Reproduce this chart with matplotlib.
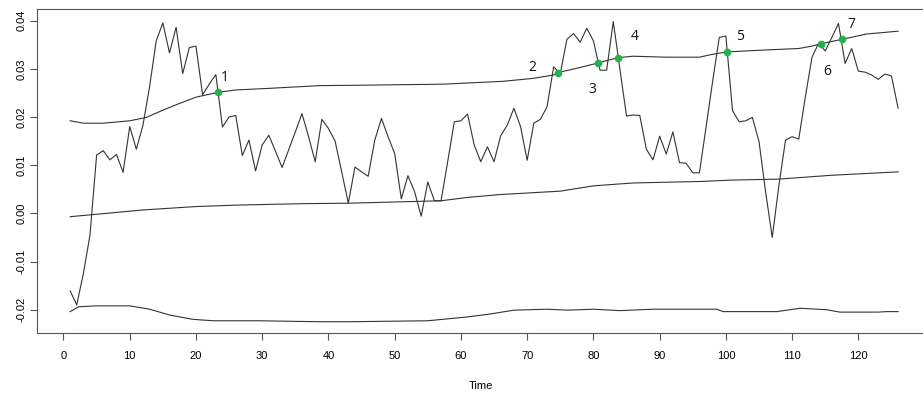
import matplotlib
matplotlib.use("Agg")
import matplotlib.pyplot as plt

# main series, t = 1..126
time = list(range(1, 127))
series = [
    -0.0161, -0.0190, -0.0125, -0.0045, 0.0121, 0.0130, 0.0111, 0.0122, 0.0085, 0.0180,
    0.0133, 0.0183, 0.0263, 0.0358, 0.0395, 0.0333, 0.0386, 0.0290, 0.0344, 0.0347,
    0.0246, 0.0268, 0.0288, 0.0179, 0.0200, 0.0203, 0.0120, 0.0152, 0.0088, 0.0142,
    0.0162, 0.0129, 0.0095, 0.0132, 0.0169, 0.0207, 0.0159, 0.0107, 0.0195, 0.0176,
    0.0150, 0.0086, 0.0021, 0.0096, 0.0086, 0.0077, 0.0152, 0.0197, 0.0159, 0.0124,
    0.0030, 0.0078, 0.0045, -0.0006, 0.0065, 0.0026, 0.0026, 0.0107, 0.0190, 0.0192,
    0.0206, 0.0142, 0.0107, 0.0138, 0.0107, 0.0161, 0.0183, 0.0218, 0.0180, 0.0110,
    0.0187, 0.0195, 0.0221, 0.0304, 0.0290, 0.0361, 0.0373, 0.0355, 0.0384, 0.0358,
    0.0297, 0.0297, 0.0398, 0.0299, 0.0202, 0.0204, 0.0203, 0.0133, 0.0111, 0.0160,
    0.0123, 0.0169, 0.0105, 0.0104, 0.0084, 0.0084, 0.0178, 0.0274, 0.0365, 0.0368,
    0.0213, 0.0190, 0.0192, 0.0199, 0.0149, 0.0044, -0.0050, 0.0057, 0.0152, 0.0159,
    0.0154, 0.0242, 0.0324, 0.0353, 0.0337, 0.0365, 0.0394, 0.0311, 0.0342, 0.0295,
    0.0293, 0.0287, 0.0278, 0.0289, 0.0285, 0.0218,
]

# upper band
upper_t = [1, 3, 6, 10, 12.5, 15, 17.5, 20, 23.3, 26, 30.6, 38.7, 46, 57.3, 66.4, 70.9,
           74, 74.6, 77.5, 80.7, 83.7, 86, 91, 96, 98, 100.2, 106, 111, 113, 114.4,
           117.5, 121.2, 126]
upper = [0.0192, 0.0187, 0.0187, 0.0192, 0.0199, 0.0214, 0.0228, 0.0241, 0.0251, 0.0256,
         0.0259, 0.0265, 0.0266, 0.0268, 0.0274, 0.0280, 0.0287, 0.0292, 0.0301, 0.0312,
         0.0323, 0.0326, 0.0324, 0.0324, 0.0330, 0.0335, 0.0339, 0.0342, 0.0347, 0.0352,
         0.0361, 0.0372, 0.0378]

# middle line
mid_t = [1, 5, 12, 20, 26, 36, 43, 57, 61, 66, 75, 80, 86, 96, 101, 108, 116, 126]
mid = [-0.0007, -0.0002, 0.0007, 0.0014, 0.0017, 0.0020, 0.0021, 0.0026, 0.0033, 0.0039,
       0.0046, 0.0057, 0.0063, 0.0066, 0.0069, 0.0071, 0.0079, 0.0086]

# lower band
lower_t = [1, 2.3, 5, 10, 13, 16, 19.5, 22.6, 29.5, 38.7, 43, 55, 61, 64.4, 68, 73, 76, 80,
           84, 89, 98.6, 99.6, 107.7, 111.2, 115.2, 117.2, 123, 124.3, 126]
lower = [-0.0204, -0.0194, -0.0192, -0.0192, -0.0199, -0.0211, -0.0220, -0.0223, -0.0223,
         -0.0225, -0.0225, -0.0223, -0.0215, -0.0209, -0.0201, -0.0199, -0.0201, -0.0199,
         -0.0202, -0.0199, -0.0199, -0.0204, -0.0204, -0.0197, -0.0200, -0.0205, -0.0205,
         -0.0204, -0.0204]

# crossing points marked in green
cross_t = [23.3, 74.6, 80.7, 83.7, 100.2, 114.4, 117.5]
cross_v = [0.0251, 0.0292, 0.0312, 0.0323, 0.0335, 0.0352, 0.0361]
cross_labels = ["1", "2", "3", "4", "5", "6", "7"]
label_offsets = [(5, 11), (-18, 4), (-4, -19), (12, 15), (9, 11), (4, -20), (7, 11)]

plt.rcParams["font.family"] = ["Liberation Sans", "DejaVu Sans"]

fig = plt.figure(figsize=(9.23, 3.96), dpi=100)
ax = fig.add_axes([37 / 923, 1 - 333.3 / 396, (924.6 - 37) / 923, (333.3 - 9) / 396])

lc = "#333333"
ax.plot(time, series, color=lc, lw=0.8)
ax.plot(upper_t, upper, color=lc, lw=0.8)
ax.plot(mid_t, mid, color=lc, lw=0.8)
ax.plot(lower_t, lower, color=lc, lw=0.8)
ax.plot(cross_t, cross_v, "o", color="#22b14c", ms=4.5, mec="#22b14c", zorder=3)

for t, v, lab, off in zip(cross_t, cross_v, cross_labels, label_offsets):
    ax.annotate(lab, (t, v), xytext=off, textcoords="offset points",
                ha="center", va="center", fontsize=10, family=["Open Sans", "DejaVu Sans"],
                color="#111111")

ax.set_xlim(-4, 130)
ax.set_ylim(-0.0249, 0.0424)
ax.set_xticks(range(0, 121, 10))
ax.set_yticks([-0.02, -0.01, 0.0, 0.01, 0.02, 0.03, 0.04])
ax.set_yticklabels(["-0.02", "-0.01", "0.00", "0.01", "0.02", "0.03", "0.04"],
                   rotation=90, va="center")
ax.tick_params(axis="both", labelsize=8, length=5, width=0.8, color="#555555")
ax.tick_params(axis="x", pad=8)
ax.tick_params(axis="y", pad=2.5)
for s in ["left", "top", "bottom"]:
    ax.spines[s].set_color("#555555")
    ax.spines[s].set_linewidth(0.8)
ax.spines["right"].set_visible(False)

ax.set_xlabel("Time", fontsize=8, labelpad=14)

fig.savefig("out.png", dpi=100)
